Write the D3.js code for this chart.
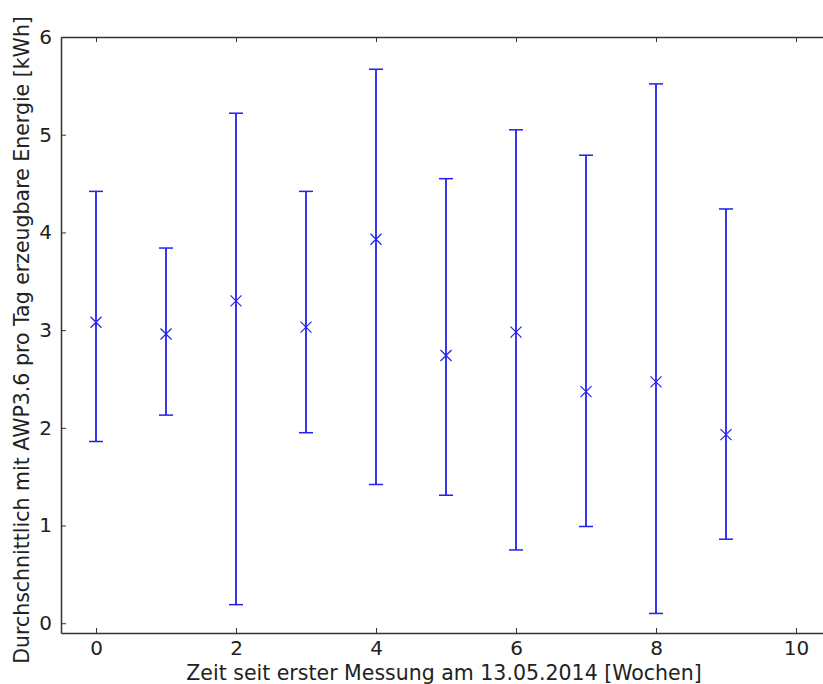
<!DOCTYPE html>
<html>
<head>
<meta charset="utf-8">
<script src="https://cdn.jsdelivr.net/npm/d3@7"></script>
<style>
  body { margin: 0; background: #fff; }
  text { font-family: "DejaVu Sans", sans-serif; fill: #222; }
</style>
</head>
<body>
<div id="chart"></div>
<script>
// weeks since first measurement
var weeks = [0, 1, 2, 3, 4, 5, 6, 7, 8, 9];
// mean daily energy [kWh] and error bar ends
var mean  = [3.08, 2.96, 3.30, 3.03, 3.93, 2.74, 2.98, 2.37, 2.47, 1.93];
var lower = [1.86, 2.13, 0.19, 1.95, 1.42, 1.31, 0.75, 0.99, 0.10, 0.86];
var upper = [4.42, 3.84, 5.22, 4.42, 5.67, 4.55, 5.05, 4.79, 5.52, 4.24];
var xTicks = [0, 2, 4, 6, 8, 10];
var yTicks = [0, 1, 2, 3, 4, 5, 6];

var w = 823, h = 684;
var mLeft = 61, mTop = 37, mBottom = 633;

var x = d3.scaleLinear().domain([-0.5, 10.5]).range([mLeft, mLeft + 770]);
var y = d3.scaleLinear().domain([-0.1, 6]).range([mBottom, mTop]);

var svg = d3.select("#chart").append("svg")
  .attr("width", w)
  .attr("height", h);

// error bars
var g = svg.append("g").attr("class", "bars");
var data = weeks.map(function(d, i) {
  return {x: d, m: mean[i], lo: lower[i], hi: upper[i]};
});

g.selectAll("line.err").data(data).enter()
  .append("line")
    .attr("class", "err")
    .attr("x1", function(d) { return x(d.x); })
    .attr("x2", function(d) { return x(d.x); })
    .attr("y1", function(d) { return y(d.lo); })
    .attr("y2", function(d) { return y(d.hi); })
    .attr("stroke", "#2222ee")
    .attr("stroke-width", 1.8);

["lo", "hi"].forEach(function(k) {
  g.selectAll("line.cap" + k).data(data).enter()
    .append("line")
      .attr("class", "cap" + k)
      .attr("x1", function(d) { return x(d.x) - 7; })
      .attr("x2", function(d) { return x(d.x) + 7; })
      .attr("y1", function(d) { return y(d[k]); })
      .attr("y2", function(d) { return y(d[k]); })
      .attr("stroke", "#2222ee")
      .attr("stroke-width", 1.5);
});

// x markers
var s = 5.5;
g.selectAll("path.mk").data(data).enter()
  .append("path")
    .attr("class", "mk")
    .attr("d", function(d) {
      var cx = x(d.x), cy = y(d.m);
      return "M" + (cx - s) + "," + (cy - s) + "L" + (cx + s) + "," + (cy + s) +
             "M" + (cx - s) + "," + (cy + s) + "L" + (cx + s) + "," + (cy - s);
    })
    .attr("stroke", "#2222ee")
    .attr("stroke-width", 1.2)
    .attr("fill", "none");

// axes, ticks inside like matplotlib
var xaxis = svg.append("g")
  .attr("transform", "translate(0," + mBottom + ")")
  .call(d3.axisBottom(x).tickValues(xTicks).tickSizeInner(-5).tickSizeOuter(0).tickPadding(8));
var xaxisTop = svg.append("g")
  .attr("transform", "translate(0," + mTop + ")")
  .call(d3.axisTop(x).tickValues(xTicks).tickSizeInner(-5).tickSizeOuter(0).tickFormat(""));
var yaxis = svg.append("g")
  .attr("transform", "translate(" + mLeft + ",0)")
  .call(d3.axisLeft(y).tickValues(yTicks).tickFormat(d3.format("d"))
    .tickSizeInner(-5).tickSizeOuter(0).tickPadding(9));

[xaxis, xaxisTop, yaxis].forEach(function(a) {
  a.select(".domain").attr("stroke", "#333").attr("stroke-width", 1.5);
  a.selectAll(".tick line").attr("stroke", "#333");
  a.selectAll(".tick text").style("font-size", "20px").attr("fill", "#222");
});

svg.append("text")
  .attr("x", 444)
  .attr("y", 680)
  .attr("text-anchor", "middle")
  .style("font-size", "20.5px")
  .text("Zeit seit erster Messung am 13.05.2014 [Wochen]");

svg.append("text")
  .attr("transform", "translate(29," + 340 + ") rotate(-90)")
  .attr("text-anchor", "middle")
  .style("font-size", "20.5px")
  .text("Durchschnittlich mit AWP3.6 pro Tag erzeugbare Energie [kWh]");
</script>
</body>
</html>
